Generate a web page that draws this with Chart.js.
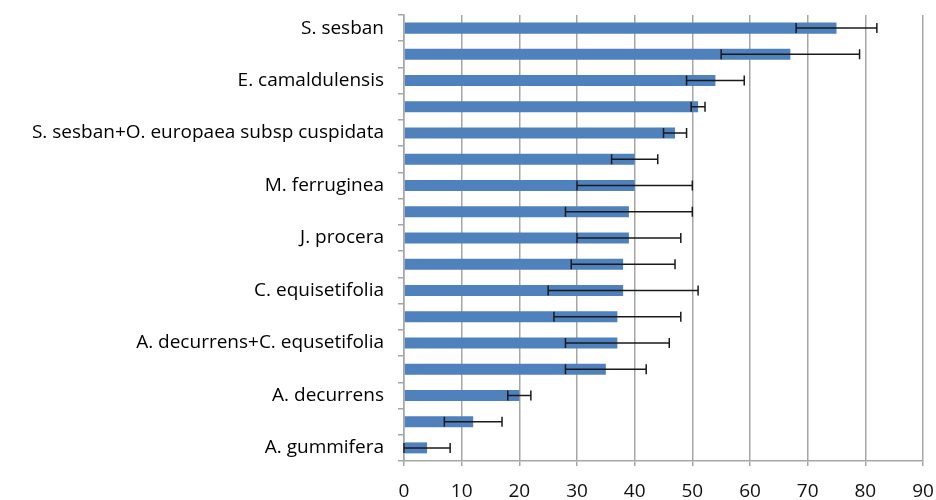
<!DOCTYPE html>
<html>
<head>
<meta charset="utf-8">
<script src="https://cdn.jsdelivr.net/npm/chart.js@4/dist/chart.umd.min.js"></script>
<style>
  html, body { margin: 0; padding: 0; background: #fff; }
  #wrap { width: 936px; height: 500px; }
</style>
</head>
<body>
<div id="wrap"><canvas id="myChart" width="936" height="500"></canvas></div>
<script>
// species (only every second one is labelled on the axis)
let species = ['S. sesban', '', 'E. camaldulensis', '', 'S. sesban+O. europaea subsp cuspidata', '',
    'M. ferruginea', '', 'J. procera', '', 'C. equisetifolia', '',
    'A. decurrens+C. equsetifolia', '', 'A. decurrens', '', 'A. gummifera'];
let means = [75, 67, 54, 51, 47, 40, 40, 39, 39, 38, 38, 37, 37, 35, 20, 12, 4];
let errs = [7, 12, 5, 1.2, 2, 4, 10, 11, 9, 9, 13, 11, 9, 7, 2, 5, 4];
let xTicks = [0, 10, 20, 30, 40, 50, 60, 70, 80, 90];

let ctx = document.getElementById('myChart').getContext('2d');
let gridGrey = '#a6a6a6';

// draws the +/- error whiskers on top of the bars
let errorBars = {
    id: 'errorBars',
    afterDatasetsDraw(chart) {
        let c = chart.ctx;
        let xs = chart.scales.x, ys = chart.scales.y;
        c.save();
        c.strokeStyle = '#1a1a1a';
        c.lineWidth = 1.5;
        means.forEach((m, i) => {
            let y = ys.getPixelForValue(i);
            let x1 = xs.getPixelForValue(Math.max(0, m - errs[i]));
            let x2 = xs.getPixelForValue(m + errs[i]);
            c.beginPath();
            c.moveTo(x1, y); c.lineTo(x2, y);
            c.moveTo(x1, y - 5); c.lineTo(x1, y + 5);
            c.moveTo(x2, y - 5); c.lineTo(x2, y + 5);
            c.stroke();
        });
        c.restore();
    }
};

let myChart = new Chart(ctx, {
    type: 'bar',
    data: {
        labels: species,
        datasets: [{
            data: means,
            backgroundColor: '#4F81BD',
            borderWidth: 0,
            barPercentage: 0.42,
            categoryPercentage: 1
        }]
    },
    options: {
        indexAxis: 'y',
        responsive: false,
        animation: false,
        layout: { padding: { top: 15, right: 13, left: 0, bottom: 0 } },
        plugins: { legend: { display: false }, tooltip: { enabled: false } },
        scales: {
            x: {
                min: 0,
                max: 90,
                afterBuildTicks: (s) => { s.ticks = xTicks.map(v => ({ value: v })); },
                afterFit: (s) => { s.height = 39; s.paddingLeft = 0; s.paddingRight = 0; },
                grid: { color: gridGrey, lineWidth: 1.5, tickLength: 5 },
                border: { color: gridGrey, width: 1.5 },
                ticks: {
                    color: '#111',
                    padding: 14,
                    maxRotation: 0,
                    font: { family: 'Open Sans', size: 19 }
                }
            },
            y: {
                afterFit: (s) => { s.width = 404; s.paddingTop = 0; s.paddingBottom = 0; },
                grid: { offset: true, drawOnChartArea: false, color: gridGrey, lineWidth: 1.5, tickLength: 6 },
                border: { color: gridGrey, width: 1.5 },
                ticks: {
                    color: '#000',
                    padding: 14,
                    autoSkip: false,
                    font: { family: 'Open Sans', size: 19 }
                }
            }
        }
    },
    plugins: [errorBars]
});
</script>
</body>
</html>
